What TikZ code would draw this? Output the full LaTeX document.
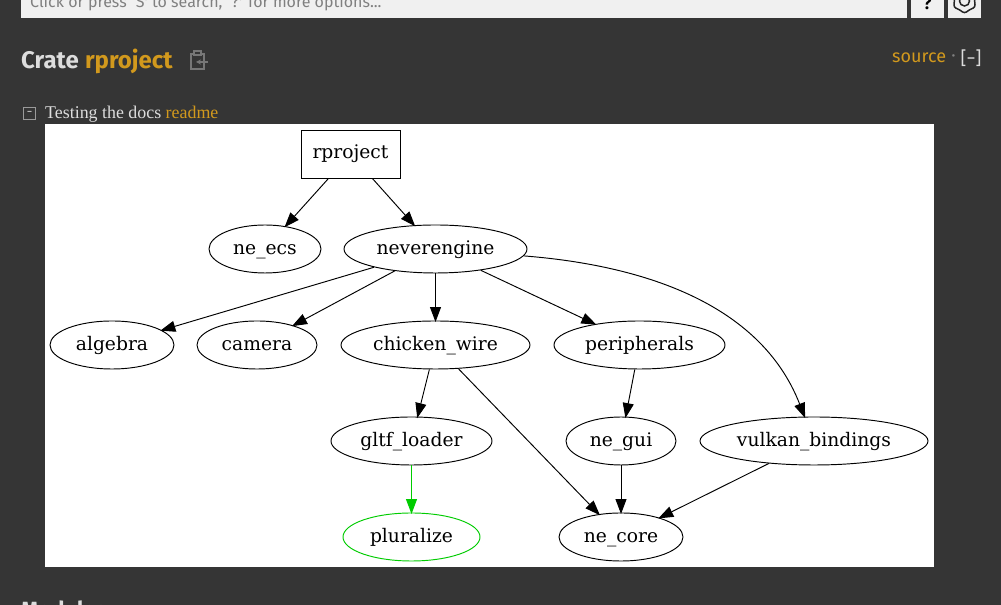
\documentclass[tikz,border=0pt]{standalone}
\usepackage{fontspec}
\setmainfont{DejaVu Serif}
\newfontfamily\uifont{Fira Sans}
\newfontfamily\docfont{Liberation Serif}
\usetikzlibrary{shapes.geometric,arrows.meta}
\definecolor{pagebg}{HTML}{353535}
\definecolor{linkgold}{HTML}{D2991D}
\definecolor{titlecol}{HTML}{DDDDDD}
\definecolor{barcol}{HTML}{F0F0F0}
\definecolor{iconcol}{HTML}{777777}
\definecolor{graphgreen}{HTML}{00CC00}
\tikzset{
  lbl/.style={inner sep=0pt,line width=0.95bp,text height=14bp,text depth=4bp,font=\fontsize{18.7bp}{20bp}\selectfont},
  dep/.style={lbl,draw,ellipse,text height=15bp,text depth=3bp,minimum height=48bp},
  edge/.style={-{Triangle[length=15bp,width=11bp]},line width=0.95bp,shorten >=-1.5bp},
  bar/.style={fill=barcol,inner sep=0pt,anchor=north west},
}
\begin{document}
\begin{tikzpicture}[x=1bp,y=1bp]
		%%
  \useasboundingbox (0,0) rectangle (1001,605);
  \fill [pagebg] (0,0) rectangle (1001,605);
		% page header
  \node (searchbar) at (21,617) [bar,minimum width=886bp,minimum height=30bp] {};
  \node (helpbtn) at (911,617) [bar,minimum width=33bp,minimum height=30bp] {};
  \node (gearbtn) at (948,617) [bar,minimum width=33bp,minimum height=30bp] {};
  \node (searchtext) at (30,602.5) [anchor=west,inner sep=0pt,text=black!50,font=\uifont\fontsize{16bp}{18bp}\selectfont] {Click or press `S' to search, `?' for more options...};
  \node (helptext) at (927.5,601) [font=\uifont\bfseries\fontsize{17bp}{18bp}\selectfont] {?};
  \node (gearicon) at (964.5,604) [draw=black!85,star,star points=6,star point ratio=1.25,rounded corners=2.5bp,line width=1.5bp,minimum size=25bp,inner sep=0pt] {};
  \node (gearhole) at (964.5,604) [draw=black!85,circle,line width=1.5bp,minimum size=10bp,inner sep=0pt] {};
  \node (title) at (21,544) [anchor=west,inner sep=0pt,text=titlecol,font=\uifont\fontsize{24bp}{28bp}\selectfont] {\textbf{Crate} \textcolor{linkgold}{\textbf{rproject}}};
  \node (srclink) at (892,547) [anchor=west,inner sep=0pt,text=linkgold,font=\uifont\fontsize{18bp}{22bp}\selectfont] {source};
  \node (srcdot) at (953.5,547) [inner sep=0pt,text=gray,font=\uifont\fontsize{18bp}{22bp}\selectfont] {·};
  \node (srctoggle) at (971,547) [inner sep=0pt,text=titlecol,font=\uifont\fontsize{18bp}{22bp}\selectfont] {[−]};
  \node (clipbox) at (197.5,543.5) [draw=iconcol,line width=1.3bp,minimum width=13bp,minimum height=15bp,inner sep=0pt] {};
  \node (clipcap) at (197.5,552) [draw=iconcol,fill=pagebg,line width=1.2bp,minimum width=7bp,minimum height=4bp,inner sep=0pt] {};
  \coordinate (cliptail) at (208,543);
  \coordinate (cliphead) at (196,543);
  \draw [iconcol,line width=1.3bp,-{Stealth[length=5bp,width=5bp]}] (cliptail) -- (cliphead);
  \node (readmebox) at (29.5,491.5) [draw=titlecol!60!pagebg,line width=0.8bp,minimum size=12bp,inner sep=0pt] {};
  \node (readmedash) at (29.5,491.5) [inner sep=0pt,text=titlecol,font=\uifont\fontsize{11bp}{12bp}\selectfont] {−};
  \node (readme) at (45,491) [anchor=west,inner sep=0pt,text=titlecol,font=\docfont\fontsize{17.9bp}{20bp}\selectfont] {Testing the docs \textcolor{linkgold}{readme}};
  \node (modules) at (21,2) [anchor=north west,inner sep=0pt,text height=14bp,text=titlecol,font=\uifont\bfseries\fontsize{22bp}{26bp}\selectfont] {Modules};
		% graph
  \node (canvas) at (45,481) [fill=white,inner sep=0pt,anchor=north west,minimum width=889bp,minimum height=442.6bp] {};
  \node (rproject) at (350.5,451) [lbl,draw,rectangle,minimum width=99bp,minimum height=48bp] {rproject};
  \node (ne_ecs) at (265,356) [dep,minimum width=112bp] {ne\_ecs};
  \node (neverengine) at (435.5,356) [dep,minimum width=183bp] {neverengine};
  \node (algebra) at (112,260) [dep,minimum width=124bp] {algebra};
  \node (camera) at (257,260) [dep,minimum width=120bp] {camera};
  \node (chicken_wire) at (435.5,260) [dep,minimum width=189bp] {chicken\_wire};
  \node (peripherals) at (639.5,260) [dep,minimum width=171bp] {peripherals};
  \node (gltf_loader) at (411.5,164) [dep,minimum width=161bp] {gltf\_loader};
  \node (ne_gui) at (621,164) [dep,minimum width=110bp] {ne\_gui};
  \node (vulkan_bindings) at (814,164) [dep,minimum width=228bp] {vulkan\_bindings};
  \node (pluralize) at (411.5,68) [dep,draw=graphgreen,minimum width=137bp] {pluralize};
  \node (ne_core) at (621,68) [dep,minimum width=124bp] {ne\_core};
  \draw [edge] (rproject) -- (ne_ecs);
  \draw [edge] (rproject) -- (neverengine);
  \draw [edge] (neverengine) -- (algebra);
  \draw [edge] (neverengine) -- (camera);
  \draw [edge] (neverengine) -- (chicken_wire);
  \draw [edge] (neverengine) -- (peripherals);
  \draw [edge] (neverengine) .. controls (640,340) and (760,303) .. (vulkan_bindings);
  \draw [edge] (chicken_wire) -- (gltf_loader);
  \draw [edge] (chicken_wire) -- (ne_core);
  \draw [edge] (peripherals) -- (ne_gui);
  \draw [edge,draw=graphgreen,fill=graphgreen] (gltf_loader) -- (pluralize);
  \draw [edge] (ne_gui) -- (ne_core);
  \draw [edge] (vulkan_bindings) -- (ne_core);
		%
\end{tikzpicture}
\end{document}
